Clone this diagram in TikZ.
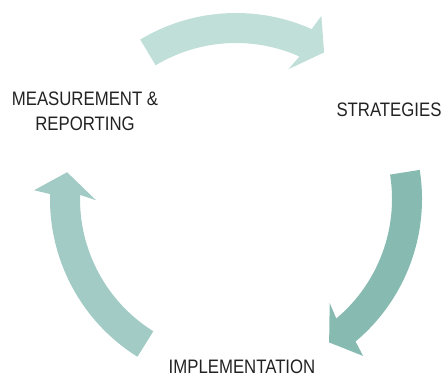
\documentclass[tikz,border=0pt]{standalone}
\usepackage{fontspec}
\newfontfamily\labelfont{Liberation Sans}[FakeStretch=0.86]
\definecolor{arrowtop}{HTML}{C0DFD9}
\definecolor{arrowright}{HTML}{87BAB0}
\definecolor{arrowleft}{HTML}{A1CBC4}
\definecolor{labeltext}{HTML}{222222}
\tikzset{cyclearrow/.style={draw=none}, steplabel/.style={labeltext, inner sep=0pt, font=\labelfont\fontsize{11.1}{14.2}\selectfont}}

\begin{document}
\begin{tikzpicture}[x=0.02cm,y=0.02cm]
   \useasboundingbox (0,0) rectangle (442,378);
   \begin{scope}[shift={(236,179)}]
    \foreach \a/\b/\t/\c in {121/66/59/arrowtop, 9/-50/-57/arrowright, 238/178.5/171/arrowleft} {
     \fill[cyclearrow,\c] (\a:186) arc(\a:\b:186) -- (\b-1:202) -- (\t:171) -- (\b+2:140) -- (\b:156) arc(\b:\a:156) -- cycle;
    }
   \end{scope}
   \node[steplabel, anchor=base] (strategies) at (389,261) {STRATEGIES};
   \node[steplabel, anchor=base] (implementation) at (242,5) {IMPLEMENTATION};
   \node[steplabel, align=center] (measurement) at (85,267) {MEASUREMENT \&\\REPORTING};
\end{tikzpicture}
\end{document}
